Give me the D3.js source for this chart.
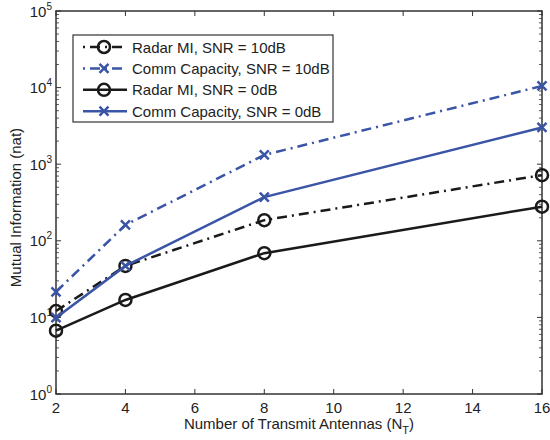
<!DOCTYPE html>
<html>
<head>
<meta charset="utf-8">
<script src="https://cdn.jsdelivr.net/npm/d3@7"></script>
<style>
  body { margin: 0; background: #fff; overflow: hidden; }
  svg { display: block; }
  svg text { font-family: "Liberation Sans", Arial, Helvetica, sans-serif; fill: #222; }
</style>
</head>
<body>
<div id="chart"></div>
<script>
// data
const antennas = [2, 4, 8, 16];
const radar10 = [12.1, 47, 186, 720];
const comm10 = [21.6, 161, 1320, 10500];
const radar0 = [6.7, 16.9, 69, 279];
const comm0 = [9.9, 47, 372, 3020];
const xTicks = [2, 4, 6, 8, 10, 12, 14, 16];
const yExps = [0, 1, 2, 3, 4, 5];

const series = [
  { name: "Radar MI, SNR = 10dB", values: radar10, color: "#1a1a1a", dash: "10,5,2,5", marker: "o" },
  { name: "Comm Capacity, SNR = 10dB", values: comm10, color: "#3a54a6", dash: "10,5,2,5", marker: "x" },
  { name: "Radar MI, SNR = 0dB", values: radar0, color: "#1a1a1a", dash: null, marker: "o" },
  { name: "Comm Capacity, SNR = 0dB", values: comm0, color: "#3a54a6", dash: null, marker: "x" }
];

const width = 550, height = 440;
const margin = { top: 11, right: 8, bottom: 46, left: 56 };
const w = width - margin.left - margin.right;
const h = height - margin.top - margin.bottom;
const fs = 15;

const svg = d3.select("#chart").append("svg")
  .attr("width", width).attr("height", height);
const g = svg.append("g").attr("transform", `translate(${margin.left},${margin.top})`);

const x = d3.scaleLinear().domain([2, 16]).range([0, w]);
const y = d3.scaleLog().domain([1, 1e5]).range([h, 0]);

// minor ticks for log axis
let minor = [];
yExps.slice(0, -1).forEach(e => {
  for (let k = 2; k <= 9; k++) minor.push(k * Math.pow(10, e));
});

const axisColor = "#333";
// box
g.append("rect").attr("width", w).attr("height", h)
  .attr("fill", "none").attr("stroke", axisColor).attr("stroke-width", 1.5);

// x ticks bottom + top
xTicks.forEach(t => {
  g.append("line").attr("x1", x(t)).attr("x2", x(t)).attr("y1", h).attr("y2", h - 5)
    .attr("stroke", axisColor).attr("stroke-width", 1);
  g.append("line").attr("x1", x(t)).attr("x2", x(t)).attr("y1", 0).attr("y2", 5)
    .attr("stroke", axisColor).attr("stroke-width", 1);
  g.append("text").attr("x", x(t)).attr("y", h + 19)
    .attr("text-anchor", "middle").attr("font-size", fs).text(t);
});

// y major + minor ticks left and right
yExps.forEach(e => {
  const v = Math.pow(10, e);
  [[0, 5], [w, w - 5]].forEach(([a, b]) => {
    g.append("line").attr("x1", a).attr("x2", b).attr("y1", y(v)).attr("y2", y(v))
      .attr("stroke", axisColor).attr("stroke-width", 1);
  });
  const lab = g.append("text").attr("x", -4).attr("y", y(v) + 5.5)
    .attr("text-anchor", "end").attr("font-size", fs);
  lab.append("tspan").text("10");
  lab.append("tspan").attr("dy", -7).attr("font-size", 10).text(e);
});
minor.forEach(v => {
  [[0, 3], [w, w - 3]].forEach(([a, b]) => {
    g.append("line").attr("x1", a).attr("x2", b).attr("y1", y(v)).attr("y2", y(v))
      .attr("stroke", axisColor).attr("stroke-width", 0.8);
  });
});

// lines
const line = d3.line().x((d, i) => x(antennas[i])).y(d => y(d));

function drawMarker(sel, type, cx, cy, color) {
  if (type === "o") {
    sel.append("circle").attr("cx", cx).attr("cy", cy).attr("r", 6)
      .attr("fill", "none").attr("stroke", color).attr("stroke-width", 2.5);
  } else {
    const s = 4.5;
    sel.append("path")
      .attr("d", `M${cx - s},${cy - s}L${cx + s},${cy + s}M${cx - s},${cy + s}L${cx + s},${cy - s}`)
      .attr("stroke", color).attr("stroke-width", 2.5).attr("fill", "none");
  }
}

series.forEach(s => {
  g.append("path").datum(s.values)
    .attr("d", line)
    .attr("fill", "none")
    .attr("stroke", s.color)
    .attr("stroke-width", 2.5)
    .attr("stroke-dasharray", s.dash);
  s.values.forEach((v, i) => drawMarker(g, s.marker, x(antennas[i]), y(v), s.color));
});

// legend
const lg = svg.append("g").attr("transform", "translate(73,35)");
lg.append("rect").attr("width", 260).attr("height", 87)
  .attr("fill", "#fff").attr("stroke", axisColor).attr("stroke-width", 1.2);
series.forEach((s, i) => {
  const ly = 12 + i * 21.4;
  lg.append("line").attr("x1", 10).attr("x2", 54).attr("y1", ly).attr("y2", ly)
    .attr("stroke", s.color).attr("stroke-width", 2.5)
    .attr("stroke-dasharray", s.dash ? "2,5,10,5" : null);
  drawMarker(lg, s.marker, 31, ly, s.color);
  lg.append("text").attr("x", 59).attr("y", ly + 5.5).attr("font-size", fs).text(s.name);
});

// axis labels
const xl = svg.append("text").attr("x", margin.left + w / 2).attr("y", 429)
  .attr("text-anchor", "middle").attr("font-size", fs);
xl.append("tspan").text("Number of Transmit Antennas (N");
xl.append("tspan").attr("dy", 5).attr("font-size", 11).text("T");
xl.append("tspan").attr("dy", -5).text(")");

svg.append("text")
  .attr("transform", `translate(21,${margin.top + h / 2 + 5}) rotate(-90)`)
  .attr("text-anchor", "middle").attr("font-size", fs)
  .text("Mutual Information (nat)");
</script>
</body>
</html>
